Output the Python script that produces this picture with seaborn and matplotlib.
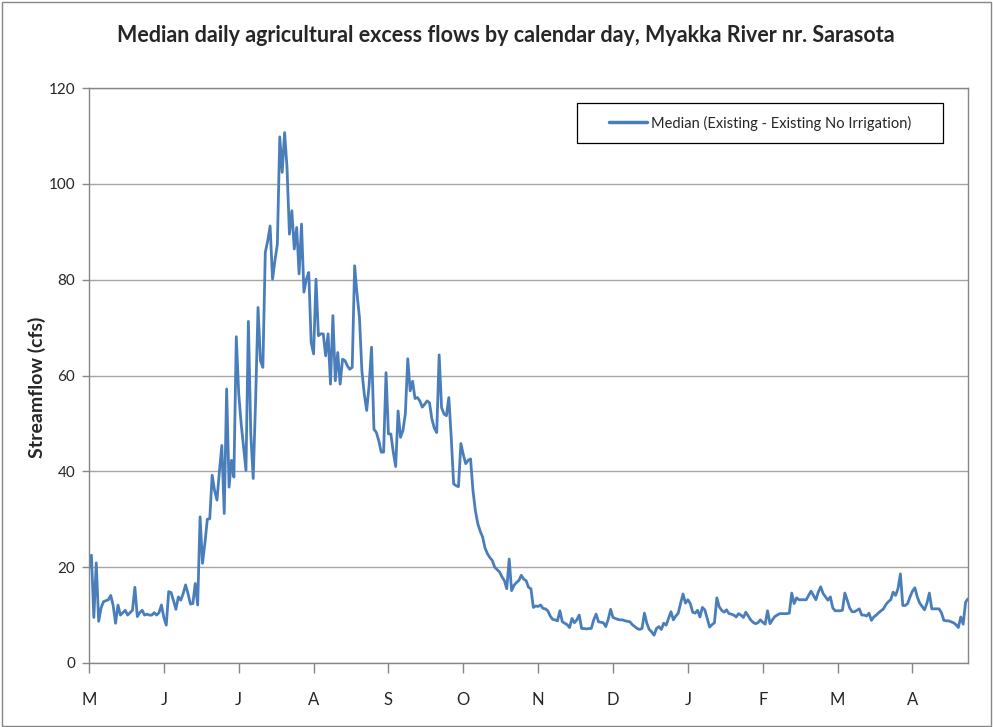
import numpy as np
import pandas as pd
import matplotlib
matplotlib.use("Agg")
import matplotlib.pyplot as plt
import seaborn as sns
from matplotlib.patches import Rectangle

# Median daily flows (cfs), by 31-day block starting in May
may = [19.7, 22.5, 9.5, 20.9, 8.7, 11.5, 12.8, 13.0, 13.2, 14.1, 12.0, 8.3, 12.1, 10.0, 10.5, 11.0,
       10.0, 10.5, 11.0, 15.8, 9.7, 10.5, 11.0, 10.0, 10.2, 10.0, 10.0, 10.5, 10.0, 10.5, 12.1]
jun = [9.5, 7.9, 14.9, 14.7, 13.0, 11.2, 13.8, 13.1, 14.5, 16.3, 14.5, 12.3, 12.4, 16.6, 12.1, 30.5,
       20.8, 25.0, 30.0, 30.1, 39.2, 36.0, 34.0, 40.0, 45.4, 31.2, 57.2, 36.7, 42.3, 38.8, 68.1]
jul = [56.2, 50.0, 45.0, 40.2, 71.3, 47.8, 38.5, 55.0, 74.2, 63.1, 61.7, 85.7, 88.1, 91.2, 80.1, 84.0,
       87.4, 109.8, 102.4, 110.7, 103.4, 89.5, 94.4, 86.4, 90.9, 81.2, 91.6, 77.4, 80.1, 81.5, 66.9]
aug = [64.5, 80.1, 68.3, 68.7, 68.7, 64.1, 68.7, 58.2, 72.5, 58.9, 64.8, 58.2, 63.4, 63.1, 62.0, 61.3,
       61.7, 82.9, 77.0, 72.1, 61.0, 56.1, 52.7, 58.0, 65.9, 48.8, 48.1, 46.4, 44.0, 44.0, 60.6]
sep = [47.8, 47.8, 44.0, 41.0, 52.6, 47.1, 48.5, 52.0, 63.5, 56.8, 58.8, 55.2, 55.4, 54.7, 53.4, 54.0,
       54.7, 54.3, 50.9, 49.0, 48.1, 64.3, 53.3, 52.0, 51.6, 55.4, 47.1, 37.4, 37.0, 36.8, 45.8]
octo = [43.5, 41.6, 42.3, 42.6, 36.0, 31.8, 29.1, 27.5, 26.3, 24.0, 22.8, 22.0, 21.4, 20.0, 19.5, 19.0,
        18.0, 17.2, 15.5, 21.7, 15.1, 16.2, 16.8, 17.2, 18.3, 17.5, 17.2, 15.8, 15.5, 11.6, 11.9]
nov = [11.8, 12.1, 11.4, 11.3, 10.9, 9.8, 9.1, 9.0, 8.8, 10.9, 8.6, 8.3, 8.0, 7.4, 9.3, 8.4,
       9.0, 10.0, 7.2, 7.2, 7.1, 7.2, 7.2, 9.0, 10.2, 8.6, 8.5, 8.4, 7.6, 9.1, 11.2]
dec = [9.5, 9.3, 9.1, 9.0, 9.0, 8.8, 8.7, 8.6, 8.0, 7.6, 7.2, 7.0, 7.2, 10.4, 8.3, 7.0,
       6.5, 5.8, 7.2, 7.6, 7.0, 8.3, 7.9, 9.3, 10.7, 9.0, 9.8, 10.4, 12.5, 14.4, 12.5]
jan = [13.2, 12.4, 10.6, 10.4, 11.0, 9.6, 11.6, 11.1, 9.3, 7.5, 8.0, 8.4, 13.6, 11.7, 11.0, 10.6,
       11.1, 10.3, 10.2, 10.0, 9.6, 10.3, 10.0, 9.5, 10.6, 9.8, 9.0, 8.5, 8.2, 8.4, 9.0]
feb = [8.5, 8.1, 10.9, 8.2, 9.0, 9.7, 10.0, 10.3, 10.3, 10.3, 10.3, 10.4, 14.6, 12.4, 13.6, 13.2,
       13.2, 13.2, 13.2, 14.1, 15.0, 14.1, 13.2, 14.8, 15.9, 14.5, 13.8, 13.1, 13.8, 11.5, 10.9]
mar = [10.9, 10.9, 11.0, 14.6, 13.1, 11.5, 10.7, 10.7, 11.0, 11.3, 10.0, 10.0, 9.8, 10.4, 8.9, 9.6,
       10.0, 10.5, 10.9, 11.3, 12.2, 12.8, 13.2, 14.8, 14.1, 15.5, 18.6, 12.0, 12.0, 12.4, 13.8]
apr = [15.0, 15.7, 13.8, 12.5, 11.8, 11.1, 12.5, 14.6, 11.3, 11.3, 11.3, 11.3, 10.5, 8.9, 8.8, 8.8,
       8.6, 8.4, 8.0, 7.4, 9.6, 8.1, 12.7, 13.4]

month_labels = ["M", "J", "J", "A", "S", "O", "N", "D", "J", "F", "M", "A"]
y_ticks = [0, 20, 40, 60, 80, 100, 120]
series_name = "Median (Existing - Existing No Irrigation)"
title = "Median daily agricultural excess flows by calendar day, Myakka River nr. Sarasota"

values = may + jun + jul + aug + sep + octo + nov + dec + jan + feb + mar + apr
df = pd.DataFrame({"day": np.arange(len(values)), "flow": values})

sns.set_theme(style="white")
plt.rcParams["font.family"] = ["Lato", "DejaVu Sans"]

fig = plt.figure(figsize=(9.93, 7.27), dpi=100)
ax = fig.add_axes([89 / 993, 1 - 663 / 727, (968 - 89) / 993, (663 - 88) / 727])

sns.lineplot(data=df, x="day", y="flow", ax=ax, color="#4a7ebb", linewidth=2.0, label=series_name)

ax.set_xlim(0, len(values) - 1)
ax.set_ylim(0, 120)
ax.set_yticks(y_ticks)
ax.set_yticklabels([str(t) for t in y_ticks])
ax.set_xticks([31 * i for i in range(len(month_labels))])
ax.set_xticklabels(month_labels)
ax.yaxis.grid(True, color="#a6a6a6", linewidth=1.0)
ax.set_axisbelow(True)
for s in ax.spines.values():
    s.set_color("#868686")
    s.set_linewidth(1.0)
ax.tick_params(axis="x", direction="out", length=7, width=1, color="#868686",
               pad=14, labelsize=12, bottom=True)
ax.tick_params(axis="y", direction="out", length=5, width=1, color="#868686",
               pad=5, labelsize=11, left=True)
ax.set_xlabel("")
ax.set_ylabel("Streamflow (cfs)", fontsize=14, fontweight="bold")
ax.yaxis.set_label_coords(-(89 - 46) / 879, (663 - 387) / 575)

fig.suptitle(title, x=506 / 993, y=1 - 36 / 727, va="center", fontsize=15.5, fontweight="bold")

leg = ax.legend(loc="center", bbox_to_anchor=((760 - 89) / 879, (663 - 123) / 575),
                frameon=False, fontsize=10.5, handlelength=2.6, handletextpad=0.3)
for ln in leg.get_lines():
    ln.set_linewidth(2.5)
ax.add_patch(Rectangle(((577 - 89) / 879, (663 - 143) / 575), (943 - 577) / 879, 40 / 575,
                       transform=ax.transAxes, fill=False, edgecolor="black", linewidth=0.9,
                       zorder=5))

fig.patches.append(Rectangle((2 / 993, 1 / 727), 989 / 993, 724 / 727, transform=fig.transFigure,
                             fill=False, edgecolor="#868686", linewidth=1.0))

fig.savefig("out.png", dpi=100)
